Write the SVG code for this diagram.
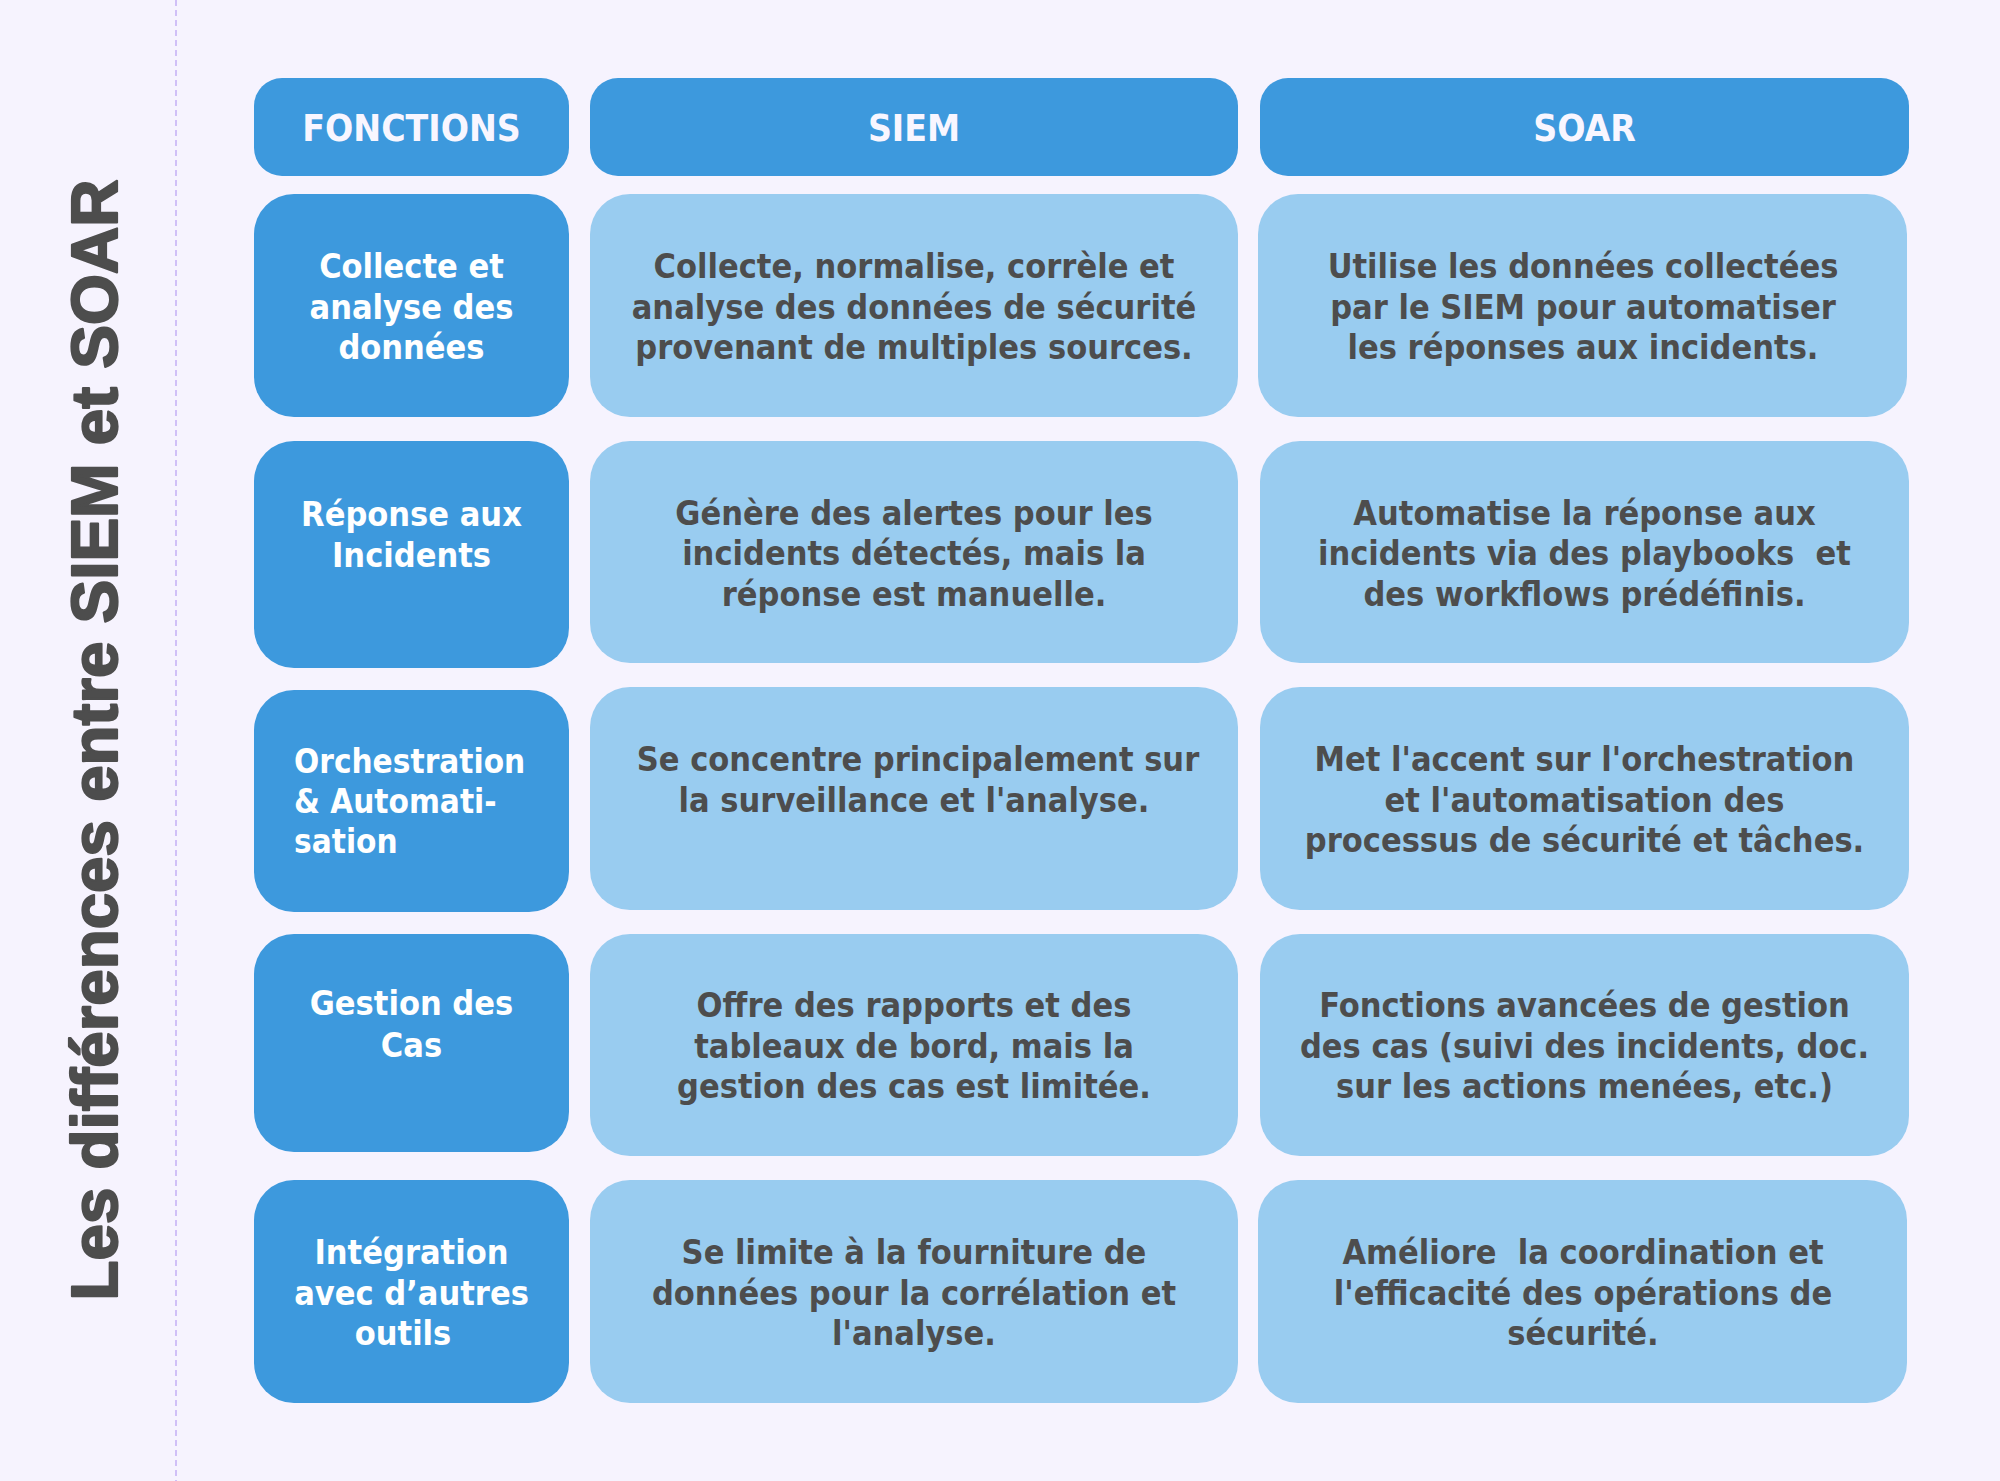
<svg xmlns="http://www.w3.org/2000/svg" width="2000" height="1481" viewBox="0 0 2000 1481">
<style>
.bg{fill:#F6F3FE}
.dark{fill:#3D99DD}
.light{fill:#99CCF0}
.t{font-family:'DejaVu Sans Condensed','DejaVu Sans',sans-serif;font-weight:bold;font-size:34px;text-anchor:middle}
.w{fill:#FFFFFF}
.g{fill:#4D4D4D}
.h{font-size:37px;fill:#F8F6FF}
.title{font-family:'Liberation Sans',Arial,sans-serif;font-weight:bold;font-size:65.5px;fill:#4D4D4D;stroke:#4D4D4D;stroke-width:2.2px;stroke-linejoin:round;text-anchor:middle}
</style>
<rect class="bg" x="0" y="0" width="2000" height="1481"/>
<line x1="176" y1="0" x2="176" y2="1481" stroke="#C4AEF5" stroke-width="1.5" stroke-dasharray="6 4"/>
<g id="title">
<text class="title" transform="translate(117,740) rotate(-90)">Les différences entre SIEM et SOAR</text>
</g>
<g id="connectors"/>

<g id="h-fonctions"><rect class="dark" x="254" y="78" width="315" height="98" rx="28"/><text class="t h" x="411.5" y="141">FONCTIONS</text></g>
<g id="h-siem"><rect class="dark" x="590" y="78" width="648" height="98" rx="28"/><text class="t h" x="914" y="141">SIEM</text></g>
<g id="h-soar"><rect class="dark" x="1260" y="78" width="649" height="98" rx="28"/><text class="t h" x="1584.5" y="141">SOAR</text></g>

<g id="r1-f"><rect class="dark" x="254" y="194" width="315" height="223" rx="40"/>
<text class="t w" x="411.5" y="278">Collecte et</text><text class="t w" x="411.5" y="318.5">analyse des</text><text class="t w" x="411.5" y="359">données</text></g>
<g id="r1-siem"><rect class="light" x="590" y="194" width="648" height="223" rx="40"/>
<text class="t g" x="914" y="278">Collecte, normalise, corrèle et</text><text class="t g" x="914" y="318.5">analyse des données de sécurité</text><text class="t g" x="914" y="359">provenant de multiples sources.</text></g>
<g id="r1-soar"><rect class="light" x="1258" y="194" width="649" height="223" rx="40"/>
<text class="t g" x="1583" y="278">Utilise les données collectées</text><text class="t g" x="1583" y="318.5">par le SIEM pour automatiser</text><text class="t g" x="1583" y="359">les réponses aux incidents.</text></g>

<g id="r2-f"><rect class="dark" x="254" y="441" width="315" height="227" rx="40"/>
<text class="t w" x="411.5" y="526">Réponse aux</text><text class="t w" x="411.5" y="567">Incidents</text></g>
<g id="r2-siem"><rect class="light" x="590" y="441" width="648" height="222" rx="40"/>
<text class="t g" x="914" y="524.5">Génère des alertes pour les</text><text class="t g" x="914" y="565">incidents détectés, mais la</text><text class="t g" x="914" y="605.5">réponse est manuelle.</text></g>
<g id="r2-soar"><rect class="light" x="1260" y="441" width="649" height="222" rx="40"/>
<text class="t g" x="1584.5" y="524.5">Automatise la réponse aux</text><text class="t g" x="1584.5" y="565" xml:space="preserve">incidents via des playbooks &#160;et</text><text class="t g" x="1584.5" y="605.5">des workflows prédéfinis.</text></g>

<g id="r3-f"><rect class="dark" x="254" y="690" width="315" height="222" rx="40"/>
<text class="t w" x="294" y="773" style="text-anchor:start;font-size:33px">Orchestration</text><text class="t w" x="294" y="813" style="text-anchor:start;font-size:33px">&amp; Automati-</text><text class="t w" x="294" y="853" style="text-anchor:start;font-size:33px">sation</text></g>
<g id="r3-siem"><rect class="light" x="590" y="687" width="648" height="223" rx="40"/>
<text class="t g" x="918" y="771">Se concentre principalement sur</text><text class="t g" x="914" y="811.5">la surveillance et l'analyse.</text></g>
<g id="r3-soar"><rect class="light" x="1260" y="687" width="649" height="223" rx="40"/>
<text class="t g" x="1584.5" y="771">Met l'accent sur l'orchestration</text><text class="t g" x="1584.5" y="811.5">et l'automatisation des</text><text class="t g" x="1584.5" y="852">processus de sécurité et tâches.</text></g>

<g id="r4-f"><rect class="dark" x="254" y="934" width="315" height="218" rx="40"/>
<text class="t w" x="411.5" y="1015">Gestion des</text><text class="t w" x="411.5" y="1057">Cas</text></g>
<g id="r4-siem"><rect class="light" x="590" y="934" width="648" height="222" rx="40"/>
<text class="t g" x="914" y="1017">Offre des rapports et des</text><text class="t g" x="914" y="1057.5">tableaux de bord, mais la</text><text class="t g" x="914" y="1098">gestion des cas est limitée.</text></g>
<g id="r4-soar"><rect class="light" x="1260" y="934" width="649" height="222" rx="40"/>
<text class="t g" x="1584.5" y="1017">Fonctions avancées de gestion</text><text class="t g" x="1584.5" y="1057.5">des cas (suivi des incidents, doc.</text><text class="t g" x="1584.5" y="1098">sur les actions menées, etc.)</text></g>

<g id="r5-f"><rect class="dark" x="254" y="1180" width="315" height="223" rx="40"/>
<text class="t w" x="411.5" y="1264">Intégration</text><text class="t w" x="411.5" y="1304.5">avec d’autres</text><text class="t w" x="403" y="1345">outils</text></g>
<g id="r5-siem"><rect class="light" x="590" y="1180" width="648" height="223" rx="40"/>
<text class="t g" x="914" y="1264">Se limite à la fourniture de</text><text class="t g" x="914" y="1304.5">données pour la corrélation et</text><text class="t g" x="914" y="1345">l'analyse.</text></g>
<g id="r5-soar"><rect class="light" x="1258" y="1180" width="649" height="223" rx="40"/>
<text class="t g" x="1583" y="1264" xml:space="preserve">Améliore &#160;la coordination et</text><text class="t g" x="1583" y="1304.5">l'efficacité des opérations de</text><text class="t g" x="1583" y="1345">sécurité.</text></g>
</svg>
